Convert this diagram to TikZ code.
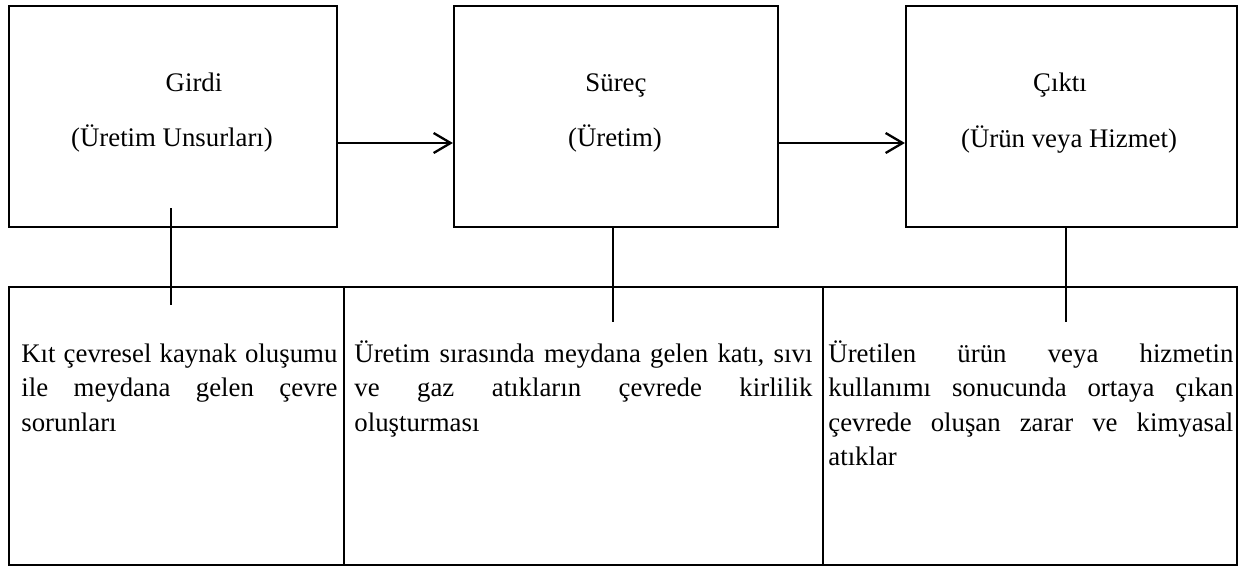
\documentclass[tikz,border=0pt]{standalone}
\usepackage{fontspec}
\setmainfont{Liberation Serif}
\usetikzlibrary{arrows.meta}
\newcommand{\jl}[2]{\leavevmode\hbox to #1{#2}}
\begin{document}
\begin{tikzpicture}[x=0.5pt,y=-0.5pt,
  box/.style={draw, line width=1.1pt, inner sep=0pt, minimum height=110.5pt},
  cell/.style={draw, line width=1.1pt, inner sep=0pt, minimum height=139pt},
  title/.style={inner sep=0pt, font=\fontsize{13.4pt}{17.25pt}\selectfont},
  body/.style={inner sep=0pt, align=left, font=\fontsize{13.4pt}{17.25pt}\selectfont},
  arr/.style={line width=1.15pt, -{Straight Barb[length=8.5pt,width=10pt]}},
  conn/.style={line width=0.9pt}]
\useasboundingbox (0,0) rectangle (1242,568);
% top boxes
\node[box, minimum width=164pt] (girdi) at (173,116.5) {};
\node[box, minimum width=162pt] (surec) at (616,116.5) {};
\node[box, minimum width=165.5pt] (cikti) at (1071.5,116.5) {};
% bottom cells
\node[cell, minimum width=167.5pt] (c1) at (176.5,426) {};
\node[cell, minimum width=239.5pt] (c2) at (583.5,426) {};
\node[cell, minimum width=207pt] (c3) at (1030,426) {};
% titles
\node[title, anchor=base] (t1a) at (194,91) {Girdi};
\node[title, anchor=base] (t1b) at (172,146) {(Üretim Unsurları)};
\node[title, anchor=base] (t2a) at (616,91) {Süreç};
\node[title, anchor=base] (t2b) at (615,146) {(Üretim)};
\node[title, anchor=base] (t3a) at (1060,91) {Çıktı};
\node[title, anchor=base] (t3b) at (1069,147) {(Ürün veya Hizmet)};
% bodies
\node[body, text width=158pt, anchor=base west] (d1) at (21,362)
  {\jl{158pt}{Kıt\hfill çevresel\hfill kaynak\hfill oluşumu}\\
   \jl{158pt}{ile\hfill meydana\hfill gelen\hfill çevre}\\
   sorunları};
\node[body, text width=229pt, anchor=base west] (d2) at (354,362)
  {\jl{229pt}{Üretim\hfill sırasında\hfill meydana\hfill gelen\hfill katı,\hfill sıvı}\\
   \jl{229pt}{ve\hfill gaz\hfill atıkların\hfill çevrede\hfill kirlilik}\\
   oluşturması};
\node[body, text width=202.5pt, anchor=base west] (d3) at (828,362)
  {\jl{202.5pt}{Üretilen\hfill ürün\hfill veya\hfill hizmetin}\\
   \jl{202.5pt}{kullanımı\hfill sonucunda\hfill ortaya\hfill çıkan}\\
   \jl{202.5pt}{çevrede\hfill oluşan\hfill zarar\hfill ve\hfill kimyasal}\\
   atıklar};
% arrows
\coordinate (ay) at (0,143);
\draw[arr] (girdi.east |- ay) -- (surec.west |- ay);
\draw[arr] (surec.east |- ay) -- (cikti.west |- ay);
% vertical connectors
\coordinate (v1top) at (171,208);
\coordinate (v1bot) at (171,305);
\coordinate (v2bot) at (613,322);
\coordinate (v3bot) at (1066,322);
\draw[conn] (v1top) -- (v1bot);
\draw[conn] (surec.south -| v2bot) -- (v2bot);
\draw[conn] (cikti.south -| v3bot) -- (v3bot);
\end{tikzpicture}
\end{document}
